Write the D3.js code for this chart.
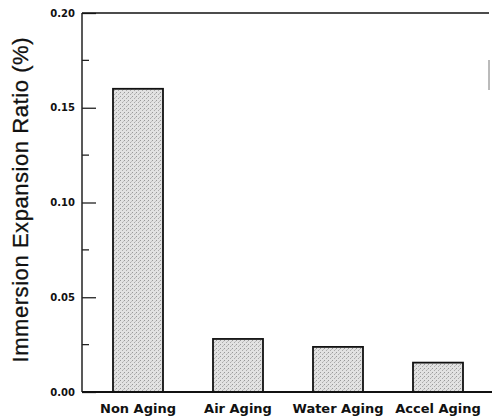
<!DOCTYPE html>
<html>
<head>
<meta charset="utf-8">
<script src="https://cdn.jsdelivr.net/npm/d3@7"></script>
<style>
  body { margin: 0; background: #fff; }
  svg { display: block; }
</style>
</head>
<body>
<div id="chart"></div>
<script>
// data
const categories = ["Non Aging", "Air Aging", "Water Aging", "Accel Aging"];
const values = [0.160, 0.028, 0.0238, 0.0155];
const yTicks = [0.00, 0.05, 0.10, 0.15, 0.20];
const yMinorTicks = [0.025, 0.075, 0.125, 0.175];

const width = 493, height = 417;
const margin = {top: 13, right: 1, bottom: 25, left: 82};

const svg = d3.select("#chart").append("svg")
    .attr("width", width)
    .attr("height", height);

// stippled fill like the scanned bars
const defs = svg.append("defs");
const pat = defs.append("pattern")
    .attr("id", "stipple")
    .attr("width", 4).attr("height", 4)
    .attr("patternUnits", "userSpaceOnUse");
pat.append("rect").attr("width", 4).attr("height", 4).attr("fill", "#e2e2e2");
pat.append("rect").attr("x", 0).attr("y", 0).attr("width", 1).attr("height", 1).attr("fill", "#999");
pat.append("rect").attr("x", 2).attr("y", 2).attr("width", 1).attr("height", 1).attr("fill", "#aaa");
pat.append("rect").attr("x", 3).attr("y", 1).attr("width", 1).attr("height", 1).attr("fill", "#c0c0c0");

const x = d3.scaleBand()
    .domain(categories)
    .range([88, 488])
    .paddingInner(0.5)
    .paddingOuter(0.25);

const y = d3.scaleLinear()
    .domain([0, 0.20])
    .range([392, margin.top]);

const x0 = margin.left, x1 = width - margin.right;

// bars
svg.append("g")
  .selectAll("rect")
  .data(values)
  .join("rect")
    .attr("x", (d, i) => x(categories[i]))
    .attr("y", d => y(d))
    .attr("width", x.bandwidth())
    .attr("height", d => y(0) - y(d))
    .attr("fill", "url(#stipple)")
    .attr("stroke", "#111")
    .attr("stroke-width", 1.8);

// y axis
const yAxis = svg.append("g")
    .attr("transform", `translate(${x0},0)`)
    .call(d3.axisRight(y).tickValues(yTicks).tickSize(14).tickFormat(d3.format(".2f")));
yAxis.select(".domain").remove();
yAxis.selectAll(".tick line").attr("stroke", "#222").attr("stroke-width", 1.3);
yAxis.selectAll(".tick text")
    .attr("x", -7)
    .attr("text-anchor", "end")
    .attr("font-family", "'DejaVu Sans', sans-serif")
    .attr("font-weight", "bold")
    .attr("font-size", 10)
    .attr("fill", "#111");

svg.append("g")
  .selectAll("line")
  .data(yMinorTicks)
  .join("line")
    .attr("x1", x0).attr("x2", x0 + 7)
    .attr("y1", d => y(d)).attr("y2", d => y(d))
    .attr("stroke", "#222").attr("stroke-width", 1.3);

// frame lines: left, bottom, top
svg.append("line")
    .attr("x1", x0).attr("x2", x0)
    .attr("y1", y(0.20)).attr("y2", y(0))
    .attr("stroke", "#222").attr("stroke-width", 1.5);
svg.append("line")
    .attr("x1", x0).attr("x2", x1)
    .attr("y1", y(0)).attr("y2", y(0))
    .attr("stroke", "#111").attr("stroke-width", 2);
svg.append("line")
    .attr("x1", x0).attr("x2", x1 - 3)
    .attr("y1", y(0.20)).attr("y2", y(0.20))
    .attr("stroke", "#111").attr("stroke-width", 1.5);
// broken right edge as in the scan
svg.append("line")
    .attr("x1", x1 - 3).attr("x2", x1 - 3)
    .attr("y1", y(0.20) + 47).attr("y2", y(0.20) + 77)
    .attr("stroke", "#777").attr("stroke-width", 1);

// x labels
svg.append("g")
  .selectAll("text")
  .data(categories)
  .join("text")
    .attr("x", d => x(d) + x.bandwidth() / 2)
    .attr("y", 413)
    .attr("text-anchor", "middle")
    .attr("font-family", "'DejaVu Sans', sans-serif")
    .attr("font-weight", "bold")
    .attr("font-size", 13)
    .attr("fill", "#111")
    .text(d => d);

// y title
svg.append("text")
    .attr("transform", `translate(28,200) rotate(-90)`)
    .attr("text-anchor", "middle")
    .attr("font-family", "Arial, 'Liberation Sans', sans-serif")
    .attr("font-size", 22)
    .attr("textLength", 325)
    .attr("lengthAdjust", "spacing")
    .attr("fill", "#111")
    .attr("stroke", "#111")
    .attr("stroke-width", 0.3)
    .text("Immersion Expansion Ratio (%)");
</script>
</body>
</html>
